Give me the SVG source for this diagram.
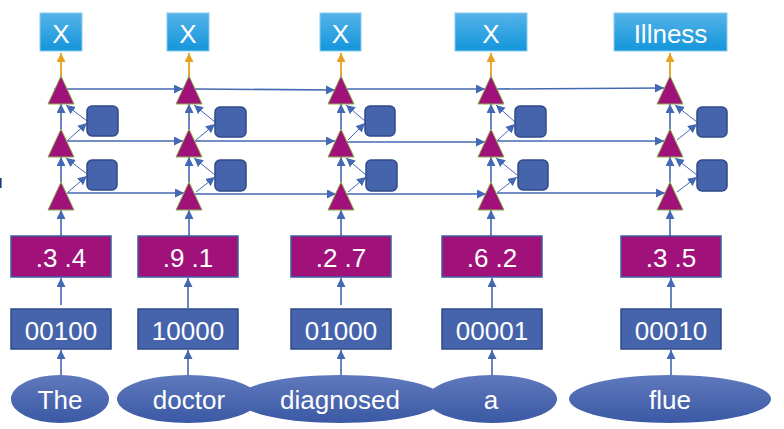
<svg xmlns="http://www.w3.org/2000/svg" width="784" height="429" viewBox="0 0 784 429">
<style>
.txt{font-family:"Liberation Sans",Arial,sans-serif;fill:#fff;text-anchor:middle;font-size:26px}
.tri{fill:#A0127A;stroke:#8DB04A;stroke-width:1}
.sq{fill:#4564AB;stroke:#2F4A88;stroke-width:1.5}
.pb{fill:#A0127A;stroke:#3D5FA3;stroke-width:1.5}
.bb{fill:#4564AB;stroke:#2F4A88;stroke-width:1.5}
.top{fill:url(#gTop);stroke:#8CCBF0;stroke-width:1}
.ell{fill:url(#gEll)}
.ln{stroke:#4468B2;stroke-width:1.6;fill:none;marker-end:url(#ah)}
.dg{stroke:#4468B2;stroke-width:1;fill:none;marker-end:url(#ah)}
.or{stroke:#E8A020;stroke-width:1.8;fill:none;marker-end:url(#ao)}
</style>
<defs>
<linearGradient id="gTop" x1="0" y1="0" x2="0" y2="1"><stop offset="0" stop-color="#55B3E8"/><stop offset="1" stop-color="#1395DB"/></linearGradient>
<linearGradient id="gEll" x1="0" y1="0" x2="0" y2="1"><stop offset="0" stop-color="#6079BD"/><stop offset="1" stop-color="#3A58A4"/></linearGradient>
<marker id="ah" markerUnits="userSpaceOnUse" markerWidth="10" markerHeight="9" refX="9" refY="4.5" orient="auto"><path d="M0,0 L9,4.5 L0,9 Z" fill="#4468B2"/></marker>
<marker id="ao" markerUnits="userSpaceOnUse" markerWidth="10" markerHeight="9" refX="9" refY="4.5" orient="auto"><path d="M0,0 L9,4.5 L0,9 Z" fill="#E8A020"/></marker>
</defs>
<rect x="0" y="178" width="1.6" height="10" fill="#1F3F7A"/>
<g id="connectors">
<!-- ellipse to one-hot -->
<line class="ln" x1="61" y1="376" x2="61" y2="350"/>
<line class="ln" x1="188" y1="376" x2="188" y2="350"/>
<line class="ln" x1="341" y1="376" x2="341" y2="350"/>
<line class="ln" x1="492" y1="376" x2="492" y2="350"/>
<line class="ln" x1="671" y1="377" x2="671" y2="350"/>
<!-- one-hot to embedding -->
<line class="ln" x1="61" y1="305" x2="61" y2="278"/>
<line class="ln" x1="188" y1="308" x2="188" y2="278"/>
<line class="ln" x1="341" y1="305" x2="341" y2="278"/>
<line class="ln" x1="492" y1="308" x2="492" y2="278"/>
<line class="ln" x1="671" y1="308" x2="671" y2="278"/>
<!-- embedding to bottom triangle -->
<line class="ln" x1="61" y1="236" x2="61" y2="210"/>
<line class="ln" x1="189" y1="236" x2="189" y2="210"/>
<line class="ln" x1="341" y1="236" x2="341" y2="210"/>
<line class="ln" x1="491" y1="236" x2="491" y2="210"/>
<line class="ln" x1="670" y1="236" x2="670" y2="210"/>
<!-- vertical between triangles -->
<line class="ln" x1="61" y1="182" x2="61" y2="157"/>
<line class="ln" x1="61" y1="129" x2="61" y2="104"/>
<line class="ln" x1="189" y1="182" x2="189" y2="157"/>
<line class="ln" x1="189" y1="129" x2="189" y2="104"/>
<line class="ln" x1="341" y1="182" x2="341" y2="157"/>
<line class="ln" x1="341" y1="129" x2="341" y2="104"/>
<line class="ln" x1="491" y1="182" x2="491" y2="157"/>
<line class="ln" x1="491" y1="129" x2="491" y2="104"/>
<line class="ln" x1="670" y1="182" x2="670" y2="157"/>
<line class="ln" x1="670" y1="129" x2="670" y2="104"/>
<!-- diagonals -->
<line class="dg" x1="68" y1="140" x2="87" y2="123"/>
<line class="dg" x1="87" y1="121" x2="66" y2="105"/>
<line class="dg" x1="68" y1="192" x2="87" y2="176"/>
<line class="dg" x1="87" y1="174" x2="66" y2="158"/>
<line class="dg" x1="196" y1="140" x2="215" y2="124"/>
<line class="dg" x1="215" y1="122" x2="194" y2="105"/>
<line class="dg" x1="196" y1="192" x2="215" y2="177"/>
<line class="dg" x1="215" y1="175" x2="194" y2="158"/>
<line class="dg" x1="348" y1="140" x2="365" y2="123"/>
<line class="dg" x1="365" y1="121" x2="346" y2="105"/>
<line class="dg" x1="348" y1="192" x2="366" y2="177"/>
<line class="dg" x1="366" y1="175" x2="346" y2="158"/>
<line class="dg" x1="498" y1="140" x2="515" y2="124"/>
<line class="dg" x1="515" y1="122" x2="496" y2="105"/>
<line class="dg" x1="498" y1="192" x2="517" y2="177"/>
<line class="dg" x1="517" y1="175" x2="496" y2="158"/>
<line class="dg" x1="677" y1="140" x2="697" y2="124"/>
<line class="dg" x1="697" y1="122" x2="675" y2="105"/>
<line class="dg" x1="677" y1="192" x2="697" y2="177"/>
<line class="dg" x1="697" y1="175" x2="675" y2="158"/>
<!-- horizontal rows -->
<line class="ln" x1="54" y1="89" x2="183" y2="89"/>
<line class="ln" x1="67" y1="141" x2="183" y2="141"/>
<line class="ln" x1="67" y1="193" x2="184" y2="193"/>
<line class="ln" x1="195" y1="89" x2="335" y2="90"/>
<line class="ln" x1="195" y1="141" x2="335" y2="141"/>
<line class="ln" x1="195" y1="194" x2="336" y2="194"/>
<line class="ln" x1="347" y1="89" x2="485" y2="89"/>
<line class="ln" x1="347" y1="142" x2="485" y2="142"/>
<line class="ln" x1="347" y1="194" x2="486" y2="194"/>
<line class="ln" x1="497" y1="89" x2="664" y2="88"/>
<line class="ln" x1="497" y1="141" x2="664" y2="141"/>
<line class="ln" x1="497" y1="193" x2="665" y2="193"/>
<!-- outputs -->
<line class="or" x1="61" y1="77" x2="61" y2="53"/>
<line class="or" x1="189" y1="77" x2="189" y2="53"/>
<line class="or" x1="341" y1="77" x2="341" y2="53"/>
<line class="or" x1="491" y1="77" x2="491" y2="53"/>
<line class="or" x1="670" y1="77" x2="670" y2="53"/>
</g>
<g id="out1"><rect class="top" x="40" y="13" width="42" height="38"/><text class="txt" x="61" y="43">X</text></g>
<g id="out2"><rect class="top" x="167" y="13" width="42" height="38"/><text class="txt" x="188" y="43">X</text></g>
<g id="out3"><rect class="top" x="320" y="13" width="41" height="38"/><text class="txt" x="340.5" y="43">X</text></g>
<g id="out4"><rect class="top" x="455" y="13" width="72" height="38"/><text class="txt" x="491" y="43">X</text></g>
<g id="out5"><rect class="top" x="614" y="13" width="113" height="38"/><text class="txt" x="670.5" y="43">Illness</text></g>
<g id="rnn1">
<polygon class="tri" points="48,104 61,76 74,104"/><polygon class="tri" points="48,157 61,129 74,157"/><polygon class="tri" points="48,210 61,182 74,210"/>
<rect class="sq" x="87" y="106" width="31" height="30" rx="5"/><rect class="sq" x="87" y="160" width="30" height="30" rx="5"/>
</g>
<g id="rnn2">
<polygon class="tri" points="176,104 189,76 202,104"/><polygon class="tri" points="176,157 189,129 202,157"/><polygon class="tri" points="176,210 189,182 202,210"/>
<rect class="sq" x="215" y="107" width="31" height="30" rx="5"/><rect class="sq" x="215" y="160" width="31" height="31" rx="5"/>
</g>
<g id="rnn3">
<polygon class="tri" points="328,104 341,76 354,104"/><polygon class="tri" points="328,157 341,129 354,157"/><polygon class="tri" points="328,210 341,182 354,210"/>
<rect class="sq" x="365" y="106" width="30" height="30" rx="5"/><rect class="sq" x="366" y="160" width="31" height="31" rx="5"/>
</g>
<g id="rnn4">
<polygon class="tri" points="478,104 491,76 504,104"/><polygon class="tri" points="478,157 491,129 504,157"/><polygon class="tri" points="478,210 491,182 504,210"/>
<rect class="sq" x="515" y="106" width="31" height="31" rx="5"/><rect class="sq" x="518" y="160" width="30" height="30" rx="5"/>
</g>
<g id="rnn5">
<polygon class="tri" points="657,104 670,76 683,104"/><polygon class="tri" points="657,157 670,129 683,157"/><polygon class="tri" points="657,210 670,182 683,210"/>
<rect class="sq" x="697" y="107" width="30" height="30" rx="5"/><rect class="sq" x="697" y="160" width="30" height="31" rx="5"/>
</g>
<g id="emb1"><rect class="pb" x="11" y="236" width="100" height="41"/><text class="txt" x="61" y="267">.3 .4</text></g>
<g id="emb2"><rect class="pb" x="138" y="236" width="100" height="41"/><text class="txt" x="188" y="267">.9 .1</text></g>
<g id="emb3"><rect class="pb" x="291" y="236" width="100" height="41"/><text class="txt" x="341" y="267">.2 .7</text></g>
<g id="emb4"><rect class="pb" x="442" y="236" width="100" height="41"/><text class="txt" x="492" y="267">.6 .2</text></g>
<g id="emb5"><rect class="pb" x="621" y="236" width="100" height="41"/><text class="txt" x="671" y="267">.3 .5</text></g>
<g id="hot1"><rect class="bb" x="11" y="309" width="100" height="40"/><text class="txt" x="61" y="340">00100</text></g>
<g id="hot2"><rect class="bb" x="138" y="309" width="100" height="40"/><text class="txt" x="188" y="340">10000</text></g>
<g id="hot3"><rect class="bb" x="291" y="309" width="100" height="40"/><text class="txt" x="341" y="340">01000</text></g>
<g id="hot4"><rect class="bb" x="442" y="309" width="100" height="40"/><text class="txt" x="492" y="340">00001</text></g>
<g id="hot5"><rect class="bb" x="621" y="309" width="100" height="40"/><text class="txt" x="671" y="340">00010</text></g>
<g id="w1"><ellipse class="ell" cx="60" cy="399" rx="49" ry="24"/><text class="txt" x="60" y="409">The</text></g>
<g id="w2"><ellipse class="ell" cx="188" cy="399" rx="71" ry="24"/><text class="txt" x="189" y="409">doctor</text></g>
<g id="w3"><ellipse class="ell" cx="340" cy="399" rx="103" ry="24"/><text class="txt" x="340" y="409">diagnosed</text></g>
<g id="w4"><ellipse class="ell" cx="492" cy="399" rx="65" ry="24"/><text class="txt" x="491" y="409">a</text></g>
<g id="w5"><ellipse class="ell" cx="670" cy="399" rx="101" ry="24"/><text class="txt" x="670" y="409">flue</text></g>
</svg>
